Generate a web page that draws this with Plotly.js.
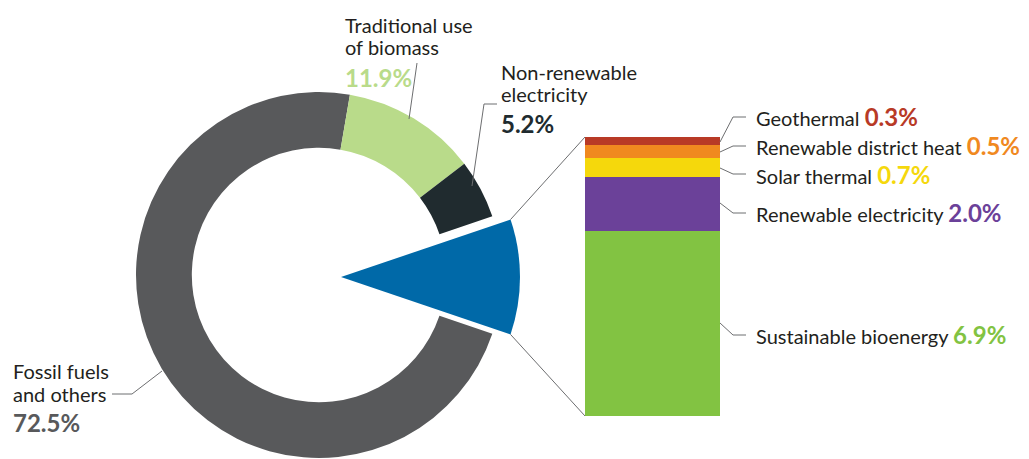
<!DOCTYPE html>
<html><head><meta charset="utf-8">
<script src="https://cdn.plot.ly/plotly-3.0.1.min.js"></script>
<style>html,body{margin:0;padding:0;background:#fff;} #chart{width:1029px;height:459px;}</style>
</head><body><div id="chart"></div>
<script>
// ---------- data ----------
const shareLabels = ['Renewables', 'Fossil fuels and others', 'Traditional use of biomass', 'Non-renewable electricity'];
const shareValues = [10.4, 72.5, 11.9, 5.2];
const shareColors = ['#0069a8', '#58595b', '#b9db8a', '#202b2f'];

const renewLabels = ['Sustainable bioenergy', 'Renewable electricity', 'Solar thermal', 'Renewable district heat', 'Geothermal'];
const renewValues = [6.9, 2.0, 0.7, 0.5, 0.3];
const renewColors = ['#82c342', '#6b4199', '#f5d80c', '#f0891f', '#b83a26'];

// ---------- layout helpers ----------
const W = 1029, H = 459;
const px = x => x / W;
const py = y => 1 - y / H;
const FONT = 'Lato, "Open Sans", sans-serif';
const TXT = '#231f20';
const LEAD = '#6d6e70';
const CLEAR = 'rgba(0,0,0,0)';

const total = shareValues.reduce((a, b) => a + b, 0);
const renTotal = shareValues[0];
const rotation = 90 - 360 * renTotal / total / 2;

// ring geometry (pixels)
const ring = {cx: 319, cy: 275, r: 183};
const wedge = {cx: 341, cy: 277, r: 179};
const dom = g => ({x: [px(g.cx - g.r), px(g.cx + g.r)], y: [py(g.cy + g.r), py(g.cy - g.r)]});

const traces = [];
traces.push({
  type: 'pie', labels: shareLabels, values: shareValues, sort: false,
  direction: 'clockwise', rotation: rotation, hole: 0.695,
  marker: {colors: [CLEAR].concat(shareColors.slice(1)), line: {width: 0}},
  textinfo: 'none', hoverinfo: 'none', showlegend: false, domain: dom(ring)
});
traces.push({
  type: 'pie', labels: [shareLabels[0], 'rest'], values: [renTotal, total - renTotal], sort: false,
  direction: 'clockwise', rotation: rotation, hole: 0,
  marker: {colors: [shareColors[0], CLEAR], line: {width: 0}},
  textinfo: 'none', hoverinfo: 'none', showlegend: false, domain: dom(wedge)
});
renewLabels.forEach((name, i) => {
  traces.push({
    type: 'bar', x: ['R'], y: [renewValues[i]], name: name,
    marker: {color: renewColors[i], line: {width: 0}},
    hoverinfo: 'none', showlegend: false, xaxis: 'x', yaxis: 'y'
  });
});

// ---------- annotations ----------
const pct = v => v.toFixed(1) + '%';
const annotations = [];
function line(x, baseline, html, size, color) {
  annotations.push({
    xref: 'paper', yref: 'paper', x: px(x), y: py(baseline - 0.39 * size),
    xanchor: 'left', yanchor: 'middle', showarrow: false, borderpad: 0,
    text: html, font: {family: FONT, size: size, color: color || TXT}
  });
}
// left-side labels
line(344, 33, 'Traditional use', 20);
line(344, 55, 'of biomass', 20);
line(344, 87, '<b>' + pct(shareValues[2]) + '</b>', 24, shareColors[2]);
line(500, 80, 'Non-renewable', 20);
line(500, 102, 'electricity', 20);
line(500, 133, '<b>' + pct(shareValues[3]) + '</b>', 24, shareColors[3]);
line(12, 379, 'Fossil fuels', 20);
line(12, 401.5, 'and others', 20);
line(12, 432, '<b>' + pct(shareValues[1]) + '</b>', 24, shareColors[1]);
// right-side labels (bar)
const rightBase = [342, 220, 182, 153, 124];
renewLabels.forEach((name, i) => {
  line(755, rightBase[i], name + ' <span style="color:' + renewColors[i] + ';font-size:24px"><b>' + pct(renewValues[i]) + '</b></span>', 20);
});

// ---------- shapes (leader lines) ----------
const shapes = [];
function poly(pts, color) {
  const d = pts.map((p, i) => (i ? 'L' : 'M') + px(p[0]) + ',' + py(p[1])).join(' ');
  shapes.push({type: 'path', xref: 'paper', yref: 'paper', path: d, line: {color: color || LEAD, width: 1}});
}
poly([[417, 63], [409, 119]]);
poly([[497, 104], [484, 104], [472, 186]]);
poly([[112, 394], [132, 394], [162, 371]]);
poly([[720, 142], [733, 117], [746, 117]]);
poly([[720, 152], [733, 146], [746, 146]]);
poly([[720, 168], [733, 174], [746, 174]]);
poly([[720, 203], [733, 213], [746, 213]]);
poly([[720, 323], [733, 335], [746, 335]]);
// connectors from the wedge to the bar
const half = Math.PI * renTotal / total;
const cTop = [wedge.cx + wedge.r * Math.cos(half), wedge.cy - wedge.r * Math.sin(half)];
const cBot = [wedge.cx + wedge.r * Math.cos(half), wedge.cy + wedge.r * Math.sin(half)];
const barBox = {x0: 585, x1: 720, top: 137, bottom: 416};
poly([cTop, [barBox.x0, barBox.top]]);
poly([cBot, [barBox.x0, barBox.bottom]]);

const layout = {
  width: W, height: H, margin: {l: 0, r: 0, t: 0, b: 0, pad: 0},
  paper_bgcolor: '#fff', plot_bgcolor: 'rgba(0,0,0,0)',
  barmode: 'stack', bargap: 0,
  xaxis: {domain: [px(barBox.x0), px(barBox.x1)], range: [-0.5, 0.5], visible: false, fixedrange: true},
  yaxis: {domain: [py(barBox.bottom), py(barBox.top)], range: [0, renTotal], visible: false, fixedrange: true},
  annotations: annotations, shapes: shapes, showlegend: false
};
Plotly.newPlot('chart', traces, layout, {staticPlot: true, displayModeBar: false});
</script></body></html>
